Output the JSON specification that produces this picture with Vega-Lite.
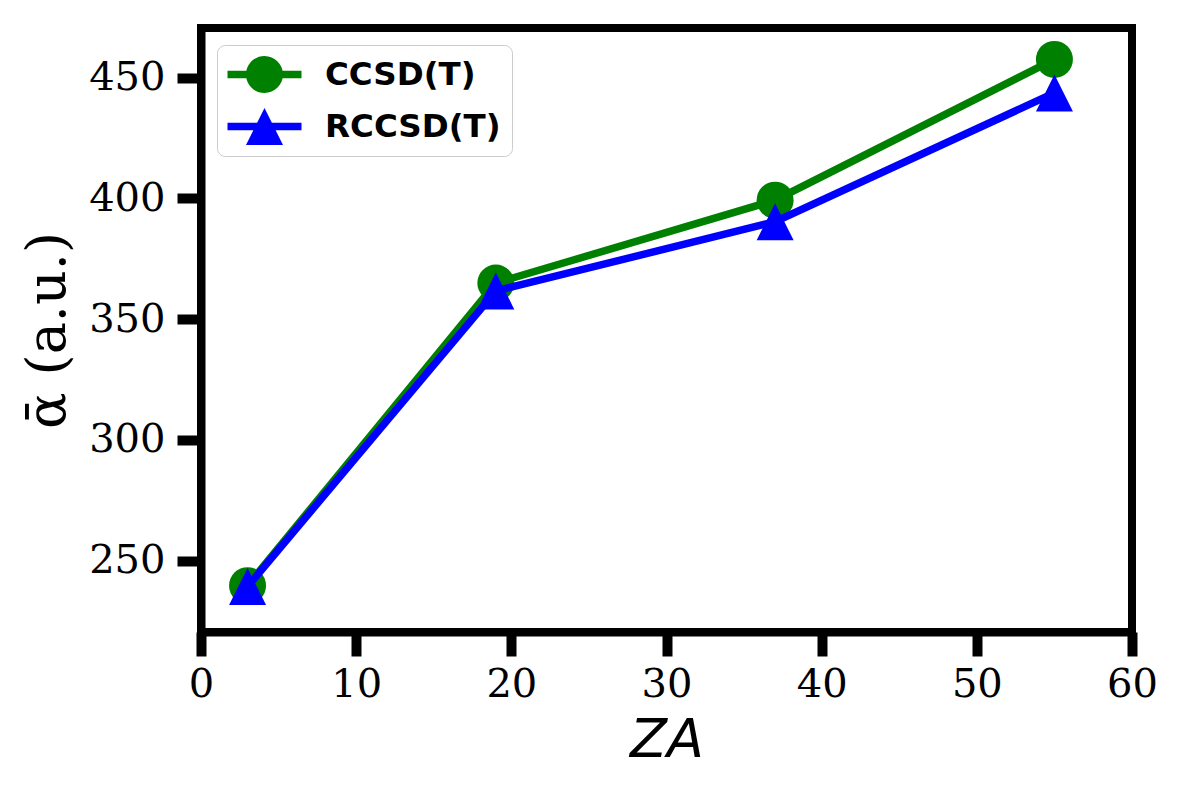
{
  "$schema": "https://vega.github.io/schema/vega-lite/v6.json",
  "autosize": {"type": "none"},
  "padding": {"left": 201, "top": 28, "right": 45, "bottom": 161},
  "width": 931,
  "height": 604,
  "background": "white",
  "config": {
    "view": {"stroke": "black", "strokeWidth": 8},
    "axis": {
      "grid": false,
      "domainColor": "black",
      "domainWidth": 8,
      "tickColor": "black",
      "tickSize": 24,
      "tickWidth": 10,
      "labelFont": "DejaVu Serif",
      "labelFontSize": 40,
      "labelColor": "black",
      "titleColor": "black",
      "titleFontWeight": "normal"
    }
  },
  "data": {
    "values": [
      {"method": "CCSD(T)", "Z": 3, "alpha": 239.6},
      {"method": "CCSD(T)", "Z": 19, "alpha": 364.9},
      {"method": "CCSD(T)", "Z": 37, "alpha": 399.2},
      {"method": "CCSD(T)", "Z": 55, "alpha": 457.5},
      {"method": "RCCSD(T)", "Z": 3, "alpha": 239.2},
      {"method": "RCCSD(T)", "Z": 19, "alpha": 361.6},
      {"method": "RCCSD(T)", "Z": 37, "alpha": 390.3},
      {"method": "RCCSD(T)", "Z": 55, "alpha": 443.6}
    ]
  },
  "encoding": {
    "x": {
      "field": "Z",
      "type": "quantitative",
      "scale": {"domain": [0, 60], "nice": false, "zero": false},
      "axis": {
        "values": [0, 10, 20, 30, 40, 50, 60],
        "title": "ZA",
        "titleFont": "DejaVu Sans",
        "titleFontStyle": "italic",
        "titleFontSize": 54,
        "titlePadding": 9,
        "labelPadding": 8,
        "labelFlush": false
      }
    },
    "y": {
      "field": "alpha",
      "type": "quantitative",
      "scale": {"domain": [220.4, 470.5], "nice": false, "zero": false},
      "axis": {
        "values": [250, 300, 350, 400, 450],
        "title": "ᾱ (a.u.)",
        "titleFont": "DejaVu Serif",
        "titleFontSize": 54,
        "titlePadding": 13,
        "labelPadding": 12,
        "labelFlush": false
      }
    },
    "color": {
      "field": "method",
      "type": "nominal",
      "scale": {"domain": ["CCSD(T)", "RCCSD(T)"], "range": ["#008000", "#0000ff"]},
      "legend": {
        "title": null,
        "orient": "none",
        "legendX": 16,
        "legendY": 17,
        "padding": 11,
        "fillColor": "white",
        "strokeColor": "#cccccc",
        "cornerRadius": 8,
        "labelFont": "DejaVu Sans",
        "labelFontWeight": "bold",
        "labelFontSize": 32.5,
        "labelColor": "black",
        "labelLimit": 400,
        "labelOffset": 42,
        "symbolSize": 1369,
        "symbolOffset": 18,
        "rowPadding": 15,
        "encode": {
          "symbols": {
            "update": {
              "shape": [
                {"test": "datum.value === 'CCSD(T)'", "value": "M-2,-0.2L2,-0.2L2,0.2L-2,0.2ZM-1,0A1,1,0,1,1,1,0A1,1,0,1,1,-1,0Z"},
                {"value": "M-2,-0.2L2,-0.2L2,0.2L-2,0.2ZM0,-1L1,1L-1,1Z"}
              ],
              "fill": [
                {"test": "datum.value === 'CCSD(T)'", "value": "#008000"},
                {"value": "#0000ff"}
              ],
              "fillOpacity": {"value": 1},
              "opacity": {"value": 1},
              "strokeWidth": {"value": 0},
              "size": {"value": 1369}
            }
          }
        }
      }
    }
  },
  "layer": [
    {
      "transform": [{"filter": "datum.method === 'CCSD(T)'"}],
      "mark": {"type": "line", "strokeWidth": 7.5}
    },
    {
      "transform": [{"filter": "datum.method === 'CCSD(T)'"}],
      "mark": {"type": "point", "filled": true, "opacity": 1, "size": 1369, "strokeWidth": 0, "shape": "circle"}
    },
    {
      "transform": [{"filter": "datum.method === 'RCCSD(T)'"}],
      "mark": {"type": "line", "strokeWidth": 7.5}
    },
    {
      "transform": [{"filter": "datum.method === 'RCCSD(T)'"}],
      "mark": {"type": "point", "filled": true, "opacity": 1, "size": 1369, "strokeWidth": 0, "shape": "M0,-1L1,1L-1,1Z"}
    }
  ]
}
